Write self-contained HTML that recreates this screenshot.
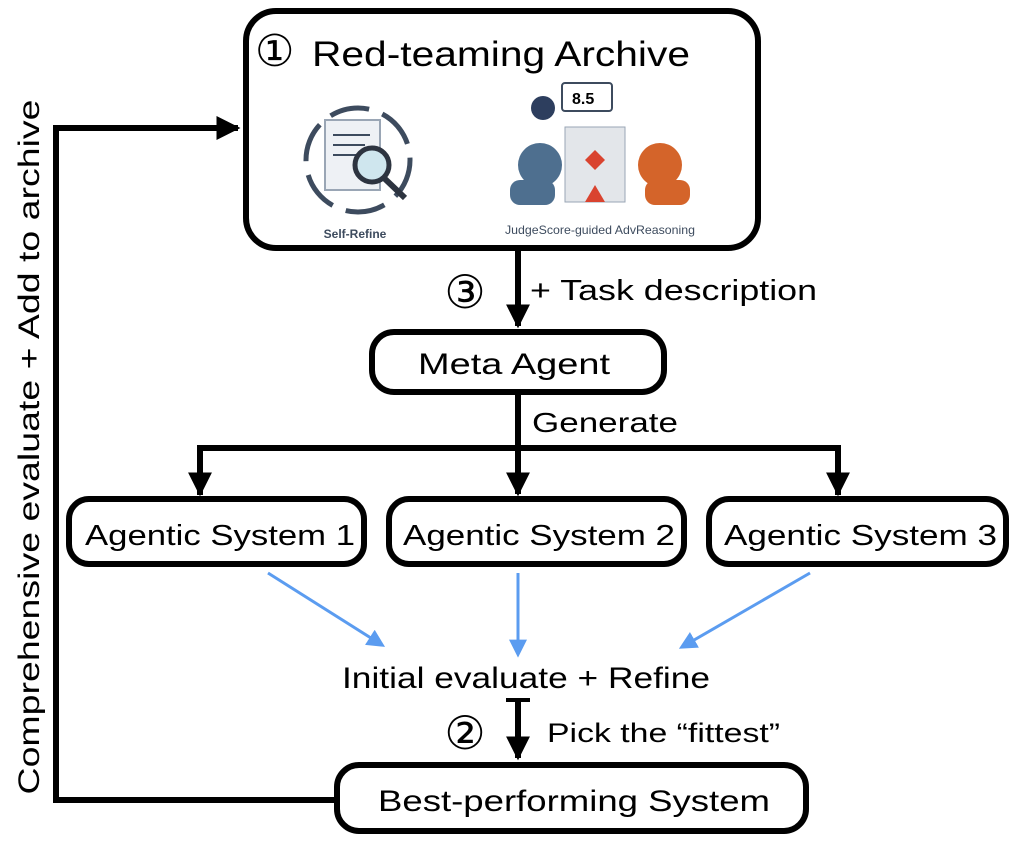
<!DOCTYPE html>
<html><head><meta charset="utf-8"><style>
html,body{margin:0;padding:0;background:#fff}
svg{display:block}
text{font-family:"Liberation Sans","DejaVu Sans",sans-serif;fill:#000}
</style></head><body>
<svg width="1018" height="846" viewBox="0 0 1018 846" xmlns="http://www.w3.org/2000/svg">
<defs>
<marker id="ah" viewBox="0 0 10 10" refX="9" refY="5" markerWidth="4" markerHeight="4" orient="auto" markerUnits="strokeWidth"><path d="M0,0L10,5L0,10z" fill="#000"/></marker>
<marker id="bh" viewBox="0 0 10 10" refX="8" refY="5" markerWidth="6" markerHeight="6" orient="auto" markerUnits="strokeWidth"><path d="M0,0L10,5L0,10z" fill="#5b9cf0"/></marker>
</defs>
<rect x="246" y="11" width="512" height="237" rx="30" fill="#fff" stroke="#000" stroke-width="6"/>
<text x="255" y="66" font-size="44">①</text>
<text x="312" y="66" font-size="35" textLength="378" lengthAdjust="spacingAndGlyphs">Red-teaming Archive</text>
<g>
<circle cx="358" cy="160" r="52" fill="none" stroke="#3d4b5e" stroke-width="5" stroke-dasharray="40 14"/>
<rect x="325" y="120" width="55" height="70" fill="#eef1f5" stroke="#9aa6b5" stroke-width="2"/>
<line x1="333" y1="135" x2="370" y2="135" stroke="#3d4b5e" stroke-width="2"/>
<line x1="333" y1="145" x2="365" y2="145" stroke="#3d4b5e" stroke-width="2"/>
<line x1="333" y1="155" x2="360" y2="155" stroke="#3d4b5e" stroke-width="2"/>
<circle cx="372" cy="165" r="17" fill="#cfe6ee" stroke="#2d3440" stroke-width="5"/>
<line x1="384" y1="178" x2="405" y2="198" stroke="#2d3440" stroke-width="6"/>
<text x="355" y="238" font-size="12" font-weight="bold" text-anchor="middle" style="fill:#3d4b5e">Self-Refine</text>
</g>
<g>
<rect x="562" y="83" width="50" height="28" rx="3" fill="#fff" stroke="#3d4b5e" stroke-width="2"/>
<text x="572" y="104" font-size="16" font-weight="bold">8.5</text>
<circle cx="543" cy="108" r="12" fill="#2d3e5e"/>
<rect x="565" y="127" width="60" height="75" fill="#e3e6ea" stroke="#9aa6b5"/>
<circle cx="540" cy="165" r="22" fill="#4e6f8f"/>
<rect x="510" y="180" width="45" height="25" rx="10" fill="#4e6f8f"/>
<circle cx="660" cy="165" r="22" fill="#d4642a"/>
<rect x="645" y="180" width="45" height="25" rx="10" fill="#d4642a"/>
<polygon points="595,150 605,160 595,170 585,160" fill="#d9432f"/>
<polygon points="595,185 605,202 585,202" fill="#d9432f"/>
<text x="600" y="234" font-size="12" text-anchor="middle" textLength="190" lengthAdjust="spacingAndGlyphs" style="fill:#3d4b5e">JudgeScore-guided AdvReasoning</text>
</g>
<line x1="518" y1="248" x2="518" y2="326" stroke="#000" stroke-width="6" marker-end="url(#ah)"/>
<text x="465" y="308" font-size="46" text-anchor="middle">③</text>
<text x="530" y="300" font-size="29" textLength="287" lengthAdjust="spacingAndGlyphs">+ Task description</text>
<rect x="372" y="332" width="292" height="60" rx="22" fill="#fff" stroke="#000" stroke-width="6"/>
<text x="418" y="374" font-size="30" textLength="192" lengthAdjust="spacingAndGlyphs">Meta Agent</text>
<line x1="518" y1="392" x2="518" y2="448" stroke="#000" stroke-width="6"/>
<text x="532" y="432" font-size="28" textLength="146" lengthAdjust="spacingAndGlyphs">Generate</text>
<path d="M200,495 V448 H838 V495" fill="none" stroke="#000" stroke-width="6"/>
<line x1="200" y1="448" x2="200" y2="494" stroke="#000" stroke-width="6" marker-end="url(#ah)"/>
<line x1="518" y1="448" x2="518" y2="494" stroke="#000" stroke-width="6" marker-end="url(#ah)"/>
<line x1="838" y1="448" x2="838" y2="494" stroke="#000" stroke-width="6" marker-end="url(#ah)"/>
<rect x="69" y="499" width="295" height="65" rx="20" fill="#fff" stroke="#000" stroke-width="6"/>
<rect x="389" y="499" width="295" height="65" rx="20" fill="#fff" stroke="#000" stroke-width="6"/>
<rect x="709" y="499" width="297" height="65" rx="20" fill="#fff" stroke="#000" stroke-width="6"/>
<text x="85" y="545" font-size="29" textLength="270" lengthAdjust="spacingAndGlyphs">Agentic System 1</text>
<text x="403" y="545" font-size="29" textLength="272" lengthAdjust="spacingAndGlyphs">Agentic System 2</text>
<text x="724" y="545" font-size="29" textLength="273" lengthAdjust="spacingAndGlyphs">Agentic System 3</text>
<line x1="268" y1="573" x2="382" y2="645" stroke="#5b9cf0" stroke-width="3" marker-end="url(#bh)"/>
<line x1="518" y1="573" x2="518" y2="654" stroke="#5b9cf0" stroke-width="3" marker-end="url(#bh)"/>
<line x1="810" y1="573" x2="682" y2="647" stroke="#5b9cf0" stroke-width="3" marker-end="url(#bh)"/>
<text x="342" y="688" font-size="30" textLength="368" lengthAdjust="spacingAndGlyphs">Initial evaluate + Refine</text>
<line x1="506" y1="700" x2="530" y2="700" stroke="#000" stroke-width="4"/>
<line x1="518" y1="700" x2="518" y2="758" stroke="#000" stroke-width="6" marker-end="url(#ah)"/>
<text x="465" y="749" font-size="46" text-anchor="middle">②</text>
<text x="547" y="742" font-size="27" textLength="233" lengthAdjust="spacingAndGlyphs">Pick the “fittest”</text>
<rect x="337" y="765" width="469" height="66" rx="22" fill="#fff" stroke="#000" stroke-width="6"/>
<text x="378" y="811" font-size="30" textLength="392" lengthAdjust="spacingAndGlyphs">Best-performing System</text>
<path d="M334,800 H56 V128 H238" fill="none" stroke="#000" stroke-width="6" marker-end="url(#ah)"/>
<text transform="translate(39,447) rotate(-90)" font-size="30" text-anchor="middle" textLength="695" lengthAdjust="spacingAndGlyphs">Comprehensive evaluate + Add to archive</text>
</svg>
</body></html>
